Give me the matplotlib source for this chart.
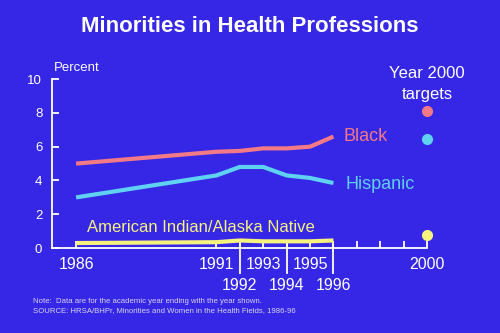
import numpy as np
import matplotlib
matplotlib.use("Agg")
import matplotlib.pyplot as plt
import matplotlib.transforms as mtransforms

# data (percent)
years = [1986, 1991, 1992, 1993, 1994, 1995, 1996]
black = [5.0, 5.7, 5.75, 5.9, 5.9, 6.0, 6.6]
hispanic = [3.0, 4.3, 4.8, 4.8, 4.3, 4.15, 3.85]
aian = [0.3, 0.35, 0.45, 0.4, 0.4, 0.4, 0.45]
target_year = 2000
targets = {'black': 8.1, 'hispanic': 6.45, 'aian': 0.75}
row1_labels = [1986, 1991, 1993, 1995, 2000]
row2_labels = [1992, 1994, 1996]
minor_years = list(range(1991, 2001))

BG = '#3626e6'
RED = '#f27a86'
CYAN = '#5fd2f2'
YEL = '#f6f27e'
WHITE = 'white'

plt.rcParams['font.family'] = ['Liberation Sans', 'DejaVu Sans']


def xpos(year):
    # axis is broken between 1986 and 1991: the gap is drawn narrower
    return year if year >= 1991 else year - 1


fig = plt.figure(figsize=(5, 3.33), dpi=100, facecolor=BG)
ax = fig.add_axes([0.104, 0.255, 0.75, 0.5075], facecolor=BG)

xs = [xpos(y) for y in years]
ax.plot(xs, black, color=RED, lw=3, solid_capstyle='butt')
ax.plot(xs, hispanic, color=CYAN, lw=3, solid_capstyle='butt')
ax.plot(xs, aian, color=YEL, lw=3, solid_capstyle='butt')

tx = xpos(target_year)
ax.plot([tx], [targets['black']], 'o', color=RED, ms=7, clip_on=False)
ax.plot([tx], [targets['hispanic']], 'o', color=CYAN, ms=7, clip_on=False)
ax.plot([tx], [targets['aian']], 'o', color=YEL, ms=7, clip_on=False, zorder=5)

ax.set_xlim(1983.97, 2000)
ax.set_ylim(0, 10)

for s in ['top', 'right']:
    ax.spines[s].set_visible(False)
for s in ['left', 'bottom']:
    ax.spines[s].set_color(WHITE)
    ax.spines[s].set_linewidth(1.3)

ax.set_yticks([0, 2, 4, 6, 8, 10])
ax.tick_params(axis='y', direction='in', length=5, width=1.3, colors=WHITE,
               labelsize=9.5, pad=7)
ax.set_xticks([xpos(y) for y in [1986] + minor_years])
ax.set_xticklabels([])
ax.tick_params(axis='x', direction='in', length=5, width=1.3, colors=WHITE)

trans = mtransforms.blended_transform_factory(ax.transData, ax.transAxes)
for y in row1_labels:
    ax.text(xpos(y), -0.095, str(y), transform=trans, ha='center', va='center',
            color=WHITE, fontsize=11.5)
for y in row2_labels:
    ax.text(xpos(y), -0.22, str(y), transform=trans, ha='center', va='center',
            color=WHITE, fontsize=11.5)
    ax.plot([xpos(y), xpos(y)], [0.02, -0.148], transform=trans, color=WHITE,
            lw=1.3, clip_on=False)

ax.text(1984.05, 10.65, 'Percent', color=WHITE, fontsize=9.5, va='center',
        clip_on=False)
ax.text(1996.45, 6.6, 'Black', color=RED, fontsize=13, va='center')
ax.text(1996.5, 3.75, 'Hispanic', color=CYAN, fontsize=13, va='center')
ax.text(1985.45, 1.2, 'American Indian/Alaska Native', color=YEL, fontsize=12,
        va='center')
ax.text(tx, 9.7, 'Year 2000\ntargets', color=WHITE, fontsize=12, ha='center',
        va='center', linespacing=1.45, clip_on=False)

fig.text(0.5, 0.919, 'Minorities in Health Professions', color=WHITE,
         fontsize=16, fontweight='bold', ha='center', va='center')
fig.text(0.066, 0.081, 'Note:  Data are for the academic year ending with the year shown.\n'
         'SOURCE: HRSA/BHPr, Minorities and Women in the Health Fields, 1986-96',
         color='#d8d4f4', fontsize=5.6, ha='left', va='center', linespacing=1.45)

fig.savefig('out.png', dpi=100, facecolor=BG)
